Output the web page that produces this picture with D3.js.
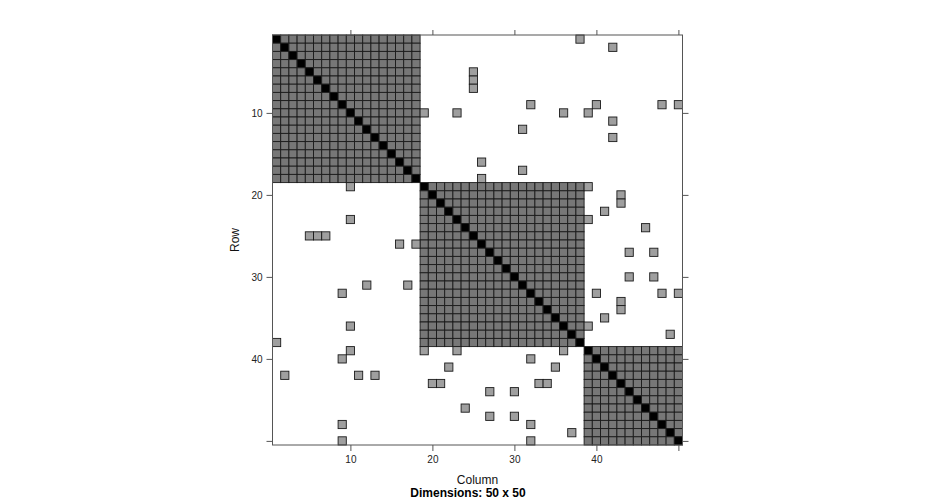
<!DOCTYPE html>
<html><head><meta charset="utf-8">
<script src="https://cdn.jsdelivr.net/npm/d3@7"></script>
<style>
html,body{margin:0;padding:0;background:#fff;}
svg{display:block;font-family:"Liberation Sans",Arial,sans-serif;}
</style></head>
<body>
<svg id="chart" width="936" height="504"></svg>
<script>
// Block-diagonal structure (row/col ranges of dense blocks)
const blockStart = [1, 19, 39];
const blockEnd   = [18, 38, 50];
// Off-block nonzero entries
const offRows = [1,2,5,6,7,9,9,9,9,10,10,10,10,11,12,13,16,17,18,
  19,19,20,21,22,23,23,24,25,25,25,26,26,27,27,30,30,31,31,32,32,32,32,33,34,35,36,36,37,38,
  39,39,39,39,40,40,41,41,42,42,42,43,43,43,43,44,44,46,47,47,48,48,49,50,50];
const offCols = [38,42,25,25,25,32,40,48,50,19,23,36,39,42,31,42,26,31,26,
  10,39,43,43,41,10,39,46,5,6,7,16,18,44,47,44,47,12,17,9,40,48,50,43,43,41,10,39,49,1,
  10,19,23,36,9,32,22,35,2,11,13,20,21,33,34,27,30,24,27,30,9,32,37,9,32];
const nDim = 50;
const tickVals = [10, 20, 30, 40, 50];
const xTickLabels = ["10", "20", "30", "40", ""];
const yTickLabels = ["10", "20", "30", "40", ""];

const svg = d3.select("#chart");
const x = d3.scaleLinear().domain([0.5, nDim + 0.5]).range([272.5, 682.5]);
const y = d3.scaleLinear().domain([0.5, nDim + 0.5]).range([35, 445]);
const cw = x(1.5) - x(0.5), ch = y(1.5) - y(0.5);

// build cells
const cells = [];
blockStart.forEach((s, b) => {
  const e = blockEnd[b];
  for (let r = s; r <= e; r++) for (let c = s; c <= e; c++)
    cells.push({r, c, type: r === c ? "diag" : "block"});
});
offRows.forEach((r, i) => cells.push({r, c: offCols[i], type: "off"}));

const fill = {diag: "#000000", block: "#777777", off: "#9f9f9f"};
svg.append("g").selectAll("rect").data(cells).join("rect")
  .attr("x", d => x(d.c - 0.5))
  .attr("y", d => y(d.r - 0.5))
  .attr("width", cw).attr("height", ch)
  .attr("fill", d => fill[d.type])
  .attr("stroke", "#1a1a1a").attr("stroke-width", 0.9);

// frame
svg.append("rect").attr("x", x(0.5)).attr("y", y(0.5))
  .attr("width", x(nDim + 0.5) - x(0.5)).attr("height", y(nDim + 0.5) - y(0.5))
  .attr("fill", "none").attr("stroke", "#555").attr("stroke-width", 1);

function styleAxis(g) {
  g.select(".domain").remove();
  g.selectAll(".tick line").attr("stroke", "#555");
  g.selectAll(".tick text").attr("fill", "#222").style("font-size", "10px")
   .style("font-family", "Liberation Sans, Arial, sans-serif");
}
svg.append("g").attr("transform", `translate(0,${y(nDim + 0.5)})`)
  .call(d3.axisBottom(x).tickValues(tickVals).tickSize(6).tickPadding(5)
        .tickFormat((d, i) => xTickLabels[i])).call(styleAxis);
svg.append("g").attr("transform", `translate(0,${y(0.5)})`)
  .call(d3.axisTop(x).tickValues(tickVals).tickSize(5).tickFormat(() => "")).call(styleAxis);
svg.append("g").attr("transform", `translate(${x(0.5)},0)`)
  .call(d3.axisLeft(y).tickValues(tickVals).tickSize(6).tickPadding(4)
        .tickFormat((d, i) => yTickLabels[i])).call(styleAxis);
svg.append("g").attr("transform", `translate(${x(nDim + 0.5)},0)`)
  .call(d3.axisRight(y).tickValues(tickVals).tickSize(6).tickFormat(() => "")).call(styleAxis);

// titles
svg.append("text").attr("x", (x(0.5) + x(nDim + 0.5)) / 2).attr("y", 484)
  .attr("text-anchor", "middle").style("font-size", "12px").attr("fill", "#111").text("Column");
svg.append("text").attr("x", 468).attr("y", 497)
  .attr("text-anchor", "middle").style("font-size", "12px").style("font-weight", "bold")
  .attr("fill", "#000").text("Dimensions: 50 x 50");
svg.append("text").attr("transform", `translate(239,${(y(0.5) + y(nDim + 0.5)) / 2}) rotate(-90)`)
  .attr("text-anchor", "middle").style("font-size", "12px").attr("fill", "#111").text("Row");
</script>
</body></html>
